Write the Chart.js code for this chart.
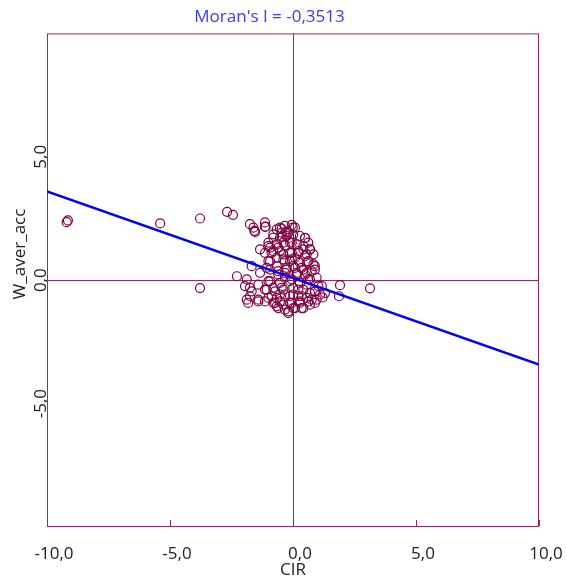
<!DOCTYPE html>
<html>
<head>
<meta charset="utf-8">
<script src="https://cdn.jsdelivr.net/npm/chart.js@4"></script>
<style>
  html, body { margin: 0; padding: 0; background: #fff; }
  #wrap { width: 567px; height: 584px; }
</style>
</head>
<body>
<div id="wrap"><canvas id="chart"></canvas></div>
<script>
const titleText = "Moran's I = -0,3513";
const xLabel = 'CIR';
const yLabel = 'W_aver_acc';
const xTicks = [-10, -5, 0, 5, 10];
const yTicks = [-5, 0, 5];

// CIR (x) and spatially lagged value (y)
const cirValues = [
  // outliers
  -9.2, -9.15, -5.4, -3.78, -2.68, -2.44, -3.78, -2.28, 1.91, 3.13, 1.87,
  // main cloud
  -1.75, -1.61, -1.54, -1.14, -1.14, -0.53, -0.33, -0.05, 0.08, -0.19, -0.46, -0.80, -0.66,
  -1.00, -0.80, -0.53, -0.26, 0.01, 0.28, 0.49, 0.62, 0.42, 0.15, -0.12, -0.39, -0.66, -0.93, -1.34,
  -1.14, -0.80, -0.53, -0.12, 0.22, 0.69, 0.83, 0.49, 0.08, -0.12, -0.39, -0.66, -0.93, 0.83, 0.56,
  -1.68, -1.07, -0.66, -0.26, 0.01, 0.35, 0.89, 0.56, 0.15, -0.33, -0.60, -1.34, 0.96, 0.69,
  -1.88, -1.41, -0.93, -0.53, -0.12, 0.28, 0.56, 1.03, 0.89, -1.95, -1.68,
  -1.14, -0.80, -0.39, 0.01, 0.42, 0.69, 1.10, 0.96, 0.56, 0.22, -0.12, -0.53, -0.87, -1.88, -1.41, -1.14,
  -0.80, -0.53, -0.12, 0.28, 0.69, 0.42, 0.01, -0.33, -0.66, -0.19, 0.76, 1.20,
  -1.57, -1.11, -0.46, -0.26, -0.01, -0.15, -0.42, 0.49, -1.00, -0.87, -0.60, -0.33, -0.05, 0.42,
  0.69, 0.56, 0.22, -0.05, -0.39, -1.00, -0.33, -0.05, 0.28, 0.62, 0.89, 0.76, 0.42, 0.08, -0.26,
  -0.60, -0.93, 0.49, 0.15, -1.00, -0.33, -0.05, 0.62, 1.17, -1.75, -1.07, -0.73, -0.46, 0.22,
  0.89, 1.30, 0.35, 0.01, -0.33, -0.66, -1.00, -1.75, -1.41, -1.82, -0.73, -0.39, -0.05, 0.28,
  0.62, 0.89, 0.08, -0.19, -0.60, 0.35
];
const lagValues = [
  2.35, 2.42, 2.30, 2.50, 2.77, 2.65, -0.32, 0.16, -0.20, -0.33, -0.65,
  2.27, 2.13, 1.96, 2.34, 2.16, 2.13, 2.20, 2.24, 2.13, 1.93, 1.93, 1.86, 2.06,
  1.52, 1.72, 1.72, 1.79, 1.86, 1.79, 1.70, 1.52, 1.38, 1.45, 1.52, 1.52, 1.45, 1.32, 1.25,
  1.11, 1.18, 1.18, 1.11, 1.18, 1.25, 1.05, 0.98, 0.91, 0.77, 0.84, 0.91, 0.77, 0.64, 0.71,
  0.57, 0.50, 0.57, 0.50, 0.57, 0.50, 0.43, 0.30, 0.30, 0.30, 0.23, 0.30, 0.10, 0.03,
  0.03, -0.18, -0.04, -0.11, -0.04, -0.11, -0.18, -0.24, -0.45, -0.24, -0.45,
  -0.38, -0.31, -0.38, -0.31, -0.38, -0.52, -0.58, -0.79, -0.72, -0.65, -0.65, -0.58, -0.65, -0.79, -0.79, -0.86,
  -0.92, -0.86, -0.92, -0.86, -0.99, -1.13, -1.13, -1.19, -1.06, -1.33, -0.79, -0.70,
  2.00, 2.17, 2.09, 1.96, 2.13, 1.72, 1.77, 1.72, 1.38, 1.11, 1.32, 1.41, 1.52, 1.25,
  1.25, 1.05, 1.11, 1.11, 1.05, 0.77, 0.77, 0.84, 0.71, 0.77, 0.57, 0.37, 0.43, 0.50, 0.43,
  0.37, 0.43, 0.23, 0.23, -0.04, 0.10, 0.03, 0.03, -0.24, -0.31, -0.38, -0.45, -0.31, -0.38,
  -0.45, -0.52, -0.65, -0.58, -0.58, -0.72, -0.72, -0.65, -0.86, -0.92, -0.92, -0.99, -0.92, -0.92,
  -0.86, -0.92, -1.13, -1.26, -1.13, -1.13
];

// regression line end points (slope = Moran's I)
const fitX = [-10, 10];
const fitY = [3.6, -3.42];

const frameColor = '#962868';
const pointColor = '#800040';
const fontFamily = '"Open Sans", "DejaVu Sans", sans-serif';

const fmt = v => v.toFixed(1).replace('.', ',');

const frame = {
  id: 'frame',
  beforeDatasetsDraw(chart) {
    const { ctx, chartArea: a, scales: { x, y } } = chart;
    ctx.save();
    ctx.strokeStyle = frameColor;
    ctx.lineWidth = 1;
    ctx.strokeRect(a.left + 0.5, a.top + 0.5, a.width - 1, a.height - 1);
    const x0 = Math.round(x.getPixelForValue(0)) + 0.5;
    const y0 = Math.round(y.getPixelForValue(0)) + 0.5;
    ctx.beginPath();
    ctx.moveTo(x0, a.top);
    ctx.lineTo(x0, a.bottom);
    ctx.moveTo(a.left, y0);
    ctx.lineTo(a.right, y0);
    xTicks.forEach(v => {
      const px = Math.round(x.getPixelForValue(v)) + 0.5;
      ctx.moveTo(px, a.bottom - 1);
      ctx.lineTo(px, a.bottom - 7);
    });
    ctx.stroke();
    ctx.restore();
  },
  afterDraw(chart) {
    const { ctx } = chart;
    ctx.save();
    ctx.fillStyle = '#222';
    ctx.font = '17px ' + fontFamily;
    ctx.textAlign = 'center';
    ctx.textBaseline = 'middle';
    ctx.translate(20, 254);
    ctx.rotate(-Math.PI / 2);
    ctx.fillText(yLabel, 0, 0);
    ctx.restore();
  }
};

new Chart(document.getElementById('chart'), {
  type: 'scatter',
  data: {
    datasets: [
      {
        type: 'line',
        data: fitX.map((v, i) => ({ x: v, y: fitY[i] })),
        borderColor: '#0000ff',
        borderWidth: 2.5,
        pointRadius: 0,
        order: 0
      },
      {
        data: cirValues.map((v, i) => ({ x: v, y: lagValues[i] })),
        borderColor: pointColor,
        backgroundColor: 'transparent',
        borderWidth: 1.2,
        pointRadius: 4.5,
        order: 1
      }
    ]
  },
  options: {
    responsive: true,
    maintainAspectRatio: false,
    animation: false,
    layout: { padding: { left: 0, right: 28, top: 0, bottom: 0 } },
    plugins: {
      legend: { display: false },
      tooltip: { enabled: false },
      title: {
        display: true,
        text: titleText,
        color: '#3a3aff',
        font: { family: fontFamily, size: 17, weight: 'normal' },
        padding: { top: 7, bottom: 6 }
      }
    },
    scales: {
      x: {
        type: 'linear',
        min: -10,
        max: 10,
        grid: { display: false },
        border: { display: false },
        afterBuildTicks: s => { s.ticks = xTicks.map(v => ({ value: v })); },
        ticks: {
          color: '#222',
          font: { family: fontFamily, size: 17 },
          padding: 9,
          labelOffset: 7,
          maxRotation: 0,
          callback: v => fmt(v)
        },
        title: {
          display: true,
          text: xLabel,
          color: '#222',
          font: { family: fontFamily, size: 17 },
          padding: { top: 0, bottom: 4 }
        },
        afterFit: s => { s.height = 57; }
      },
      y: {
        type: 'linear',
        min: -10,
        max: 10,
        grid: { display: false },
        border: { display: false },
        afterBuildTicks: s => { s.ticks = yTicks.map(v => ({ value: v })); },
        ticks: {
          color: '#222',
          font: { family: fontFamily, size: 17 },
          minRotation: 90,
          maxRotation: 90,
          crossAlign: 'center',
          padding: -17,
          callback: v => fmt(v)
        },
        afterFit: s => { s.width = 47; }
      }
    }
  },
  plugins: [frame]
});
</script>
</body>
</html>
